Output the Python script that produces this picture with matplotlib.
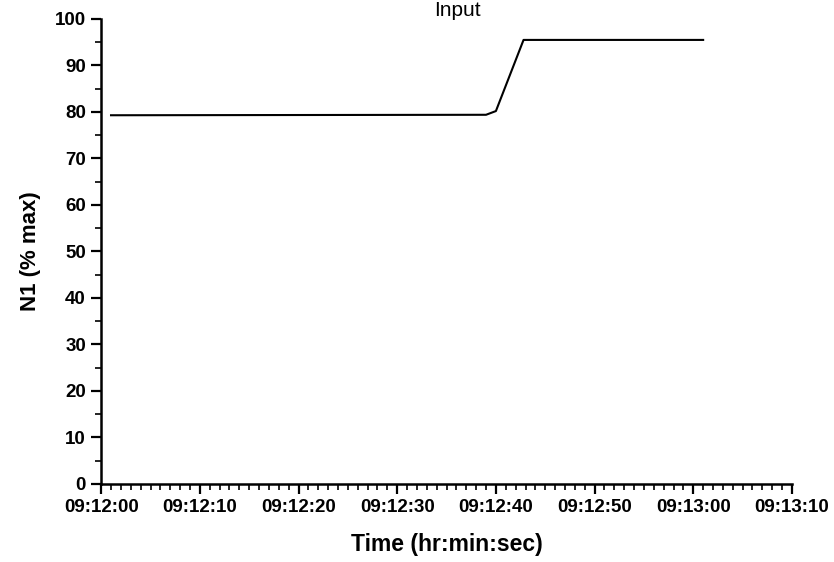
import datetime as dt
import matplotlib
matplotlib.use("Agg")
import matplotlib.pyplot as plt
import matplotlib.dates as mdates

plt.rcParams['font.family'] = ['Liberation Sans', 'DejaVu Sans']
plt.rcParams['font.weight'] = 'bold'

# N1 trace: seconds after 09:12:00 and percent of max
t_sec = [1.0, 39.0, 40.0, 42.8, 61.0]
n1 = [79.3, 79.4, 80.2, 95.5, 95.5]

t0 = dt.datetime(2000, 1, 1, 9, 12, 0)
times = [t0 + dt.timedelta(seconds=s) for s in t_sec]

fig = plt.figure(figsize=(8.34, 5.62), dpi=100)
ax = fig.add_axes([0.1213, 0.1388, 0.8283, 0.8274])

ax.plot(times, n1, color='black', lw=1.5)

ax.set_xlim(t0, t0 + dt.timedelta(seconds=70))
ax.set_ylim(0, 100)

ax.xaxis.set_major_locator(mdates.SecondLocator(bysecond=range(0, 60, 10)))
ax.xaxis.set_minor_locator(mdates.SecondLocator())
ax.xaxis.set_major_formatter(mdates.DateFormatter('%H:%M:%S'))
ax.set_yticks(range(0, 101, 10))
ax.set_yticks(range(5, 100, 10), minor=True)

for side in ('top', 'right'):
    ax.spines[side].set_visible(False)
for side in ('left', 'bottom'):
    ax.spines[side].set_linewidth(1.8)

ax.tick_params(which='major', length=7, width=1.6, labelsize=13.5, pad=4)
ax.tick_params(which='minor', length=4, width=1.2)

ax.set_xlabel('Time (hr:min:sec)', fontsize=16.5, fontweight='bold', labelpad=12)
ax.set_ylabel('N1 (% max)', fontsize=16, fontweight='bold', labelpad=10)
fig.text(0.548, 0.999, 'Input', ha='center', va='top', fontsize=15,
         fontweight='normal')

fig.savefig('out.png', dpi=100)
